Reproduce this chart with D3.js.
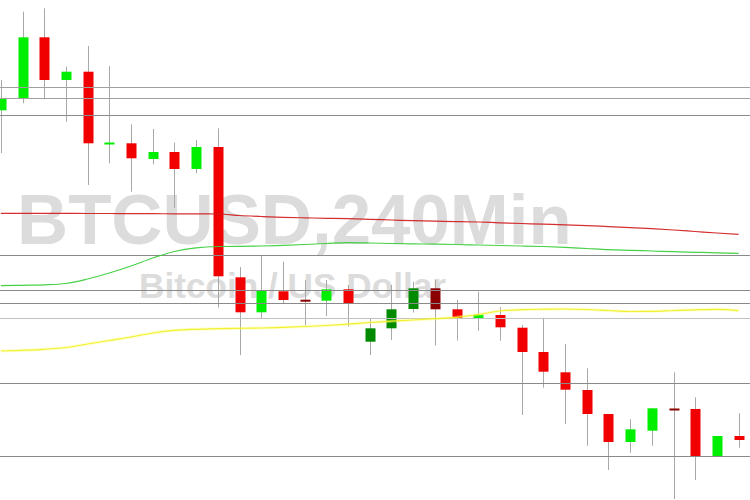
<!DOCTYPE html>
<html>
<head>
<meta charset="utf-8">
<script src="https://cdn.jsdelivr.net/npm/d3@7/dist/d3.min.js"></script>
<style>
  html, body { margin: 0; padding: 0; background: #fff; }
  svg { display: block; }
</style>
</head>
<body>
<div id="chart"></div>
<script>
// ---- Data (4-hour BTC/USD candles, prices) ----
const candleIndex = d3.range(35);
const opens  = [9689.7,9701.7,9762.7,9720,9728.3,9656.7,9656.7,9641,9648,9631,9653,9522.7,9487.7,9508.7,9500.3,9499.3,9510.7,9458.3,9471.7,9491,9511.7,9490.7,9481.3,9485,9472.3,9448,9427.7,9410,9386,9358,9369.3,9391.5,9391,9343.3,9364];
const highs  = [9720,9788.3,9791.7,9733.3,9754,9734,9675.7,9671,9657.3,9660,9671.7,9533,9544,9538.3,9520,9520,9515,9481.7,9515,9518.3,9520,9500,9508.3,9492.7,9475,9482.3,9456,9431.7,9386,9380.7,9391.7,9427.7,9402.7,9364,9386.7];
const lows   = [9647,9696.7,9700.7,9678.3,9615,9636.7,9608.3,9635.7,9592,9626.7,9492.5,9445,9481.7,9496,9475,9484,9473.3,9445,9460,9487.5,9454.5,9459.5,9469.3,9459.3,9385,9412.3,9376,9354.3,9330,9347.3,9354.3,9301,9320,9343,9352.3];
const closes = [9701.7,9762.7,9720,9728.3,9656.7,9657.5,9641.7,9648,9631,9653,9523.7,9487.7,9509.3,9500,9499.8,9510.7,9496.7,9471.7,9490.7,9511.7,9490.7,9481.5,9485.3,9472.7,9448,9428.3,9410.3,9386,9358,9370.7,9391.7,9391,9344,9364,9360];
// candles drawn in the darker shade
const darkShade = [14,17,18,19,20,31];

// moving averages (value at each candle)
const maRed    = [9586.7,9586.7,9586.7,9586.6,9586.5,9586.5,9586.4,9586.3,9586.2,9586.1,9586,9584.5,9583.5,9582.7,9582.2,9581.7,9581.3,9580.7,9580,9579.3,9578.8,9578.4,9578,9577.2,9576.5,9575.8,9575.2,9574.4,9573.4,9572.4,9571.3,9570,9568.5,9567,9565.7];
const maGreen  = [9514.3,9514.7,9515.2,9516.5,9521,9527,9534,9542,9548.5,9552.2,9553.5,9553.7,9554,9554.7,9555.5,9556.5,9557.3,9557,9556.5,9556.2,9555.8,9555.5,9555,9554.5,9554,9553.5,9552.7,9551.5,9550.3,9549.7,9549,9548.3,9547.7,9547.2,9546.7];
const maYellow = [9449,9449.7,9450.7,9452.5,9456,9459.5,9463,9467,9469.7,9470.7,9471.3,9471.7,9472,9472.7,9473.5,9474.5,9475.8,9477.5,9478.8,9480,9481.3,9482.7,9485.5,9489,9490.3,9490.8,9491,9490.5,9489.5,9488.5,9488.7,9489.5,9490.2,9490.7,9489.3];

// horizontal support / resistance levels
const levels = [9713, 9702, 9685, 9545, 9510, 9497, 9482, 9417, 9344];
const levelShade = ["#a0a0a0","#a0a0a0","#8a8a8a","#8a8a8a","#8a8a8a","#8a8a8a","#c0c0c0","#8a8a8a","#8a8a8a"];

const titleText = "BTCUSD,240Min";
const subtitleText = "Bitcoin / US Dollar";

// ---- Chart ----
const W = 750, H = 500;
const svg = d3.select("#chart").append("svg").attr("width", W).attr("height", H);
svg.append("rect").attr("width", W).attr("height", H).attr("fill", "#fff");

const x = d3.scaleLinear().domain([0, 34]).range([0.8, 738.6]);
const y = d3.scaleLinear().domain([9300, 9800]).range([500, 0]);

// watermark
svg.append("text").attr("x", 17).attr("y", 244)
  .attr("font-family", "Liberation Sans, Arial, sans-serif").attr("font-weight", "bold")
  .attr("font-size", 70.8).attr("fill", "#dcdcdc").text(titleText);
svg.append("text").attr("x", 139).attr("y", 297.5)
  .attr("font-family", "Liberation Sans, Arial, sans-serif").attr("font-weight", "bold")
  .attr("font-size", 35.2).attr("fill", "#dcdcdc").text(subtitleText);

const data = candleIndex.map(i => ({
  i, o: opens[i], h: highs[i], l: lows[i], c: closes[i], dark: darkShade.includes(i)
}));
const colorOf = d => {
  const up = d.c >= d.o;
  if (up) return d.dark ? "#008a00" : "#00ee00";
  return d.dark ? "#8b0000" : "#f00000";
};

const g = svg.append("g");
// wicks
g.selectAll("line.wick").data(data).join("line").attr("class", "wick")
  .attr("x1", d => Math.round(x(d.i)) + 0.5).attr("x2", d => Math.round(x(d.i)) + 0.5)
  .attr("y1", d => y(d.h)).attr("y2", d => y(d.l))
  .attr("stroke", "#a8a8a8").attr("stroke-width", 1);
// bodies
const bw = 10;
g.selectAll("rect.body").data(data).join("rect").attr("class", "body")
  .attr("x", d => Math.round(x(d.i)) + 0.5 - bw / 2)
  .attr("width", bw)
  .attr("y", d => y(Math.max(d.o, d.c)))
  .attr("height", d => Math.max(2, Math.abs(y(d.o) - y(d.c))))
  .attr("fill", colorOf);

// horizontal levels
svg.append("g").selectAll("line").data(levels).join("line")
  .attr("x1", 0).attr("x2", W)
  .attr("y1", d => Math.round(y(d)) + 0.5).attr("y2", d => Math.round(y(d)) + 0.5)
  .attr("stroke", (d, i) => levelShade[i]).attr("stroke-width", 1);

// moving averages
const line = arr => d3.line().x((v, i) => x(i)).y(v => y(v)).curve(d3.curveMonotoneX)(arr);
svg.append("path").attr("d", line(maRed)).attr("fill", "none")
  .attr("stroke", "#d01818").attr("stroke-width", 1.2).attr("stroke-opacity", 0.9);
svg.append("path").attr("d", line(maGreen)).attr("fill", "none")
  .attr("stroke", "#33cc33").attr("stroke-width", 1.2).attr("stroke-opacity", 0.9);
svg.append("path").attr("d", line(maYellow)).attr("fill", "none")
  .attr("stroke", "#ffff66").attr("stroke-width", 3).attr("stroke-opacity", 0.35);
svg.append("path").attr("d", line(maYellow)).attr("fill", "none")
  .attr("stroke", "#eeee22").attr("stroke-width", 1.2).attr("stroke-opacity", 0.9);
</script>
</body>
</html>
